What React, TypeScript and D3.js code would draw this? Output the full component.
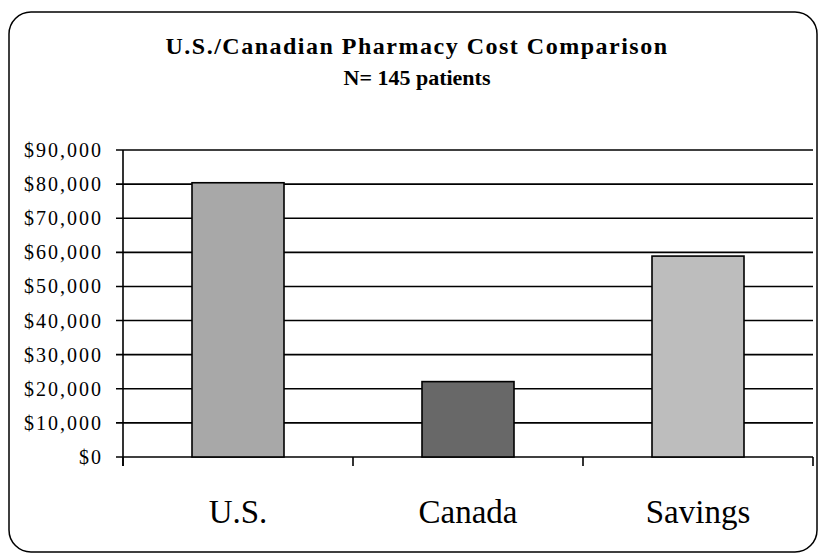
import React from "react";
import * as d3 from "d3";

// chart data
const categories = ["U.S.", "Canada", "Savings"];
const costs = [80400, 22100, 58900];
const barColors = ["#a8a8a8", "#686868", "#bdbdbd"];
const yTicks = [0, 10000, 20000, 30000, 40000, 50000, 60000, 70000, 80000, 90000];
const title = "U.S./Canadian Pharmacy Cost Comparison";
const subtitle = "N= 145 patients";

const W = 821, H = 555;
const plot = {left: 123, right: 813, top: 150, bottom: 457};
const font = "'Liberation Serif', 'Times New Roman', serif";

const fmt = (v: number) => "$" + d3.format(",")(v);

export default function App() {
  const x = d3.scaleBand<string>()
    .domain(categories)
    .range([plot.left, plot.right])
    .paddingInner(0.6)
    .paddingOuter(0.3);
  const step = x.step();

  const y = d3.scaleLinear().domain([0, 90000]).range([plot.bottom, plot.top]);

  return (
    <svg width={W} height={H} style={{position: "absolute", left: 0, top: 0, background: "#fff"}}>
      <rect x={9} y={12} width={808} height={540} rx={22} ry={22}
        fill="#fff" stroke="#000" strokeWidth={1.5} />

      <text x={417} y={54} textAnchor="middle" fontFamily={font} fontWeight="bold"
        fontSize={24} letterSpacing={1.5} fill="#000">{title}</text>
      <text x={417} y={85} textAnchor="middle" fontFamily={font} fontWeight="bold"
        fontSize={22} fill="#000">{subtitle}</text>

      {/* grid lines and y ticks */}
      {yTicks.map(t => (
        <g key={t}>
          <line x1={plot.left - 7} x2={plot.right} y1={y(t)} y2={y(t)} stroke="#000" strokeWidth={1.6} />
          <text x={103} y={y(t) + 7} textAnchor="end" fontFamily={font} fontSize={20}
            letterSpacing={2} fill="#000">{fmt(t)}</text>
        </g>
      ))}

      {/* y axis */}
      <line x1={plot.left} x2={plot.left} y1={plot.top} y2={plot.bottom + 9} stroke="#000" strokeWidth={1.6} />

      {/* category boundary ticks */}
      {d3.range(categories.length + 1).map(i => (
        <line key={i} x1={plot.left + i * step} x2={plot.left + i * step}
          y1={plot.bottom} y2={plot.bottom + 9} stroke="#000" strokeWidth={1.6} />
      ))}

      {/* bars */}
      {categories.map((c, i) => (
        <rect key={c} x={x(c)} y={y(costs[i])} width={x.bandwidth()} height={plot.bottom - y(costs[i])}
          fill={barColors[i]} stroke="#000" strokeWidth={1.6} />
      ))}

      {/* category labels */}
      {categories.map(c => (
        <text key={c} x={(x(c) ?? 0) + x.bandwidth() / 2} y={523} textAnchor="middle"
          fontFamily={font} fontSize={33} fill="#000">{c}</text>
      ))}
    </svg>
  );
}
